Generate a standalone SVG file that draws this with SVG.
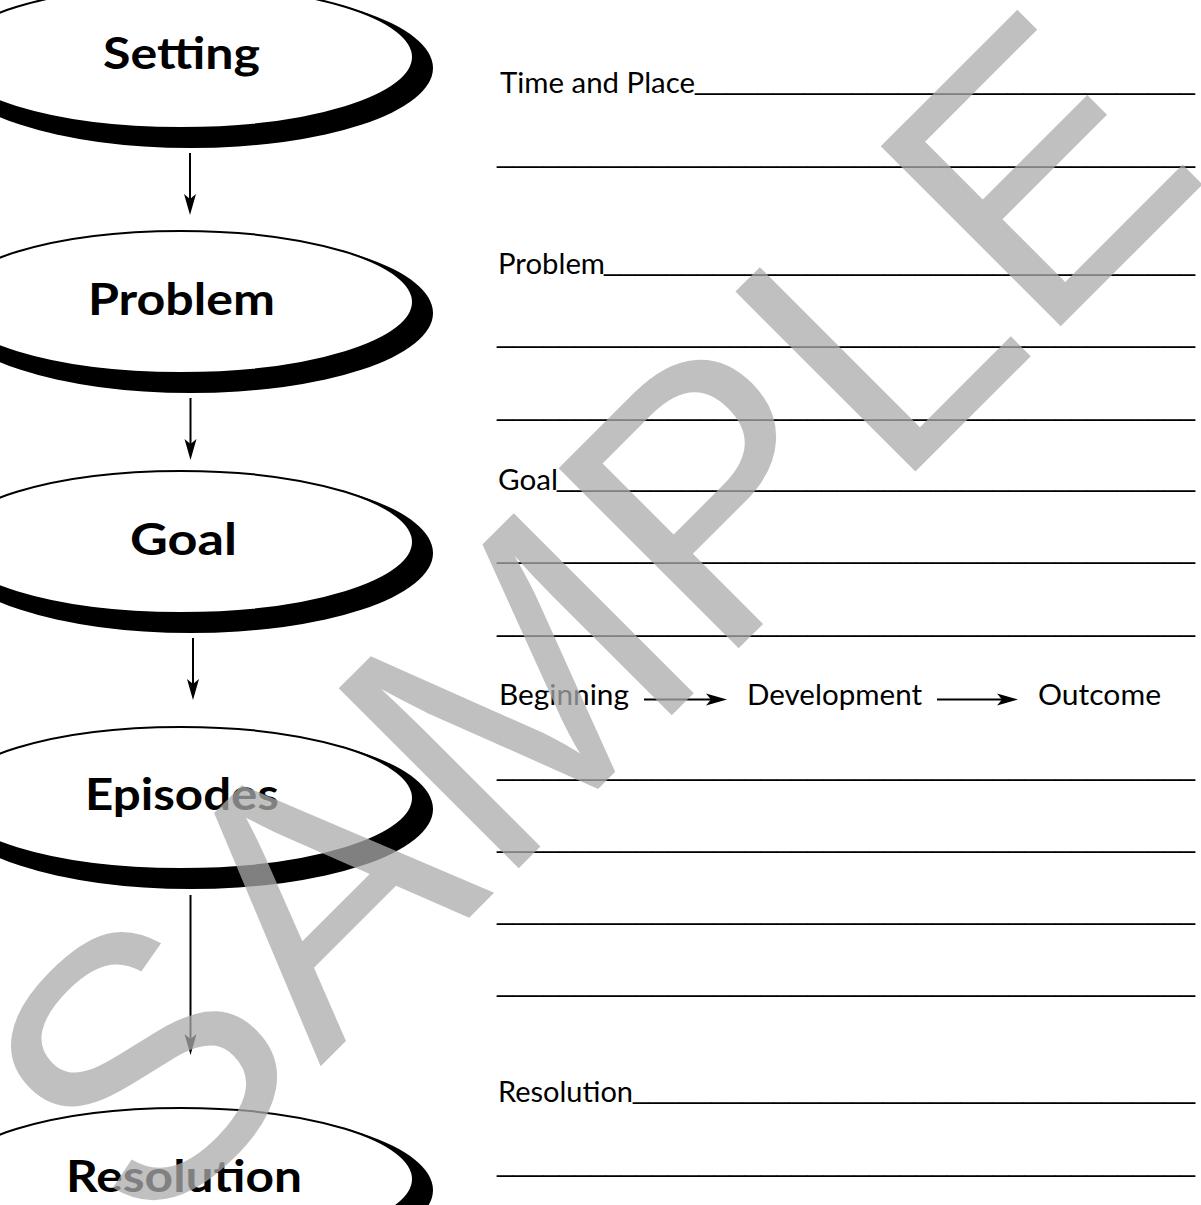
<svg xmlns="http://www.w3.org/2000/svg" width="1201" height="1205" viewBox="0 0 1201 1205">
<defs>
<style>
.lbl{font-family:Lato,"Open Sans","Liberation Sans",sans-serif;font-weight:700;font-size:43px;fill:#000}
.txt{font-family:Lato,"Open Sans","Liberation Sans",sans-serif;font-size:28px;fill:#000}
.ul{font-family:"Liberation Sans",Arial,sans-serif;font-size:28px;fill:#000}
.shadow{fill:#000}
.face{fill:#fff;stroke:#000;stroke-width:2}
.conn{stroke:#000;stroke-width:2;fill:none}
.wm{font-family:"Liberation Sans",Arial,sans-serif;font-size:370px;fill:#ababab;fill-opacity:0.75}
</style>
<marker id="ah" viewBox="-12 -7 23 14" refX="0" refY="0" markerWidth="23" markerHeight="14" markerUnits="userSpaceOnUse" orient="auto">
<path d="M10,0 L-11,-6 L-6,0 L-11,6 Z" fill="#000"/>
</marker>
</defs>
<rect width="1201" height="1205" fill="#fff"/>
<g id="node-setting">
<ellipse class="shadow" cx="191" cy="68" rx="242" ry="80"/>
<ellipse class="face" cx="181" cy="57" rx="232" ry="71"/>
<text class="lbl" x="103" y="68.5" textLength="157" lengthAdjust="spacingAndGlyphs">Setting</text>
</g>
<g id="node-problem">
<ellipse class="shadow" cx="191" cy="313" rx="242" ry="80"/>
<ellipse class="face" cx="181" cy="302" rx="232" ry="71"/>
<text class="lbl" x="88" y="315" textLength="187" lengthAdjust="spacingAndGlyphs">Problem</text>
</g>
<g id="node-goal">
<ellipse class="shadow" cx="191" cy="553" rx="242" ry="80"/>
<ellipse class="face" cx="181" cy="542" rx="232" ry="71"/>
<text class="lbl" x="130" y="555" textLength="107" lengthAdjust="spacingAndGlyphs">Goal</text>
</g>
<g id="node-episodes">
<ellipse class="shadow" cx="191" cy="809" rx="242" ry="80"/>
<ellipse class="face" cx="181" cy="798" rx="232" ry="71"/>
<text class="lbl" x="85" y="810" textLength="194" lengthAdjust="spacingAndGlyphs">Episodes</text>
</g>
<g id="node-resolution">
<ellipse class="shadow" cx="191" cy="1190" rx="242" ry="80"/>
<ellipse class="face" cx="181" cy="1179" rx="232" ry="71"/>
<text class="lbl" x="66" y="1192" textLength="236" lengthAdjust="spacingAndGlyphs">Resolution</text>
</g>
<g id="connectors">
<line class="conn" x1="190" y1="153" x2="190" y2="205" marker-end="url(#ah)"/>
<line class="conn" x1="190.5" y1="398" x2="190.5" y2="450" marker-end="url(#ah)"/>
<line class="conn" x1="193" y1="638" x2="193" y2="690" marker-end="url(#ah)"/>
<line class="conn" x1="190.5" y1="895" x2="190.5" y2="1045" marker-end="url(#ah)"/>
<line class="conn" x1="644" y1="699.5" x2="717" y2="699.5" marker-end="url(#ah)"/>
<line class="conn" x1="937" y1="699.5" x2="1008" y2="699.5" marker-end="url(#ah)"/>
</g>
<g id="worksheet">
<text class="txt" x="500" y="92.5" textLength="195" lengthAdjust="spacingAndGlyphs">Time and Place</text>
<text class="ul" x="695" y="89.1" textLength="500" lengthAdjust="spacingAndGlyphs">________________________________</text>
<text class="ul" x="497" y="162.1" textLength="698" lengthAdjust="spacingAndGlyphs">_____________________________________________</text>
<text class="txt" x="498" y="273.5" textLength="107" lengthAdjust="spacingAndGlyphs">Problem</text>
<text class="ul" x="604" y="270.1" textLength="591" lengthAdjust="spacingAndGlyphs">______________________________________</text>
<text class="ul" x="497" y="342.1" textLength="698" lengthAdjust="spacingAndGlyphs">_____________________________________________</text>
<text class="ul" x="497" y="415.1" textLength="698" lengthAdjust="spacingAndGlyphs">_____________________________________________</text>
<text class="txt" x="498" y="489.5" textLength="60" lengthAdjust="spacingAndGlyphs">Goal</text>
<text class="ul" x="557" y="486.1" textLength="638" lengthAdjust="spacingAndGlyphs">_________________________________________</text>
<text class="ul" x="497" y="558.1" textLength="698" lengthAdjust="spacingAndGlyphs">_____________________________________________</text>
<text class="ul" x="497" y="631.1" textLength="698" lengthAdjust="spacingAndGlyphs">_____________________________________________</text>
<text class="txt" x="499" y="705" textLength="130" lengthAdjust="spacingAndGlyphs">Beginning</text>
<text class="txt" x="747" y="705" textLength="175" lengthAdjust="spacingAndGlyphs">Development</text>
<text class="txt" x="1038" y="705" textLength="123" lengthAdjust="spacingAndGlyphs">Outcome</text>
<text class="ul" x="497" y="775.1" textLength="698" lengthAdjust="spacingAndGlyphs">_____________________________________________</text>
<text class="ul" x="497" y="847.1" textLength="698" lengthAdjust="spacingAndGlyphs">_____________________________________________</text>
<text class="ul" x="497" y="919.1" textLength="698" lengthAdjust="spacingAndGlyphs">_____________________________________________</text>
<text class="ul" x="497" y="991.1" textLength="698" lengthAdjust="spacingAndGlyphs">_____________________________________________</text>
<text class="txt" x="498" y="1101.5" textLength="135" lengthAdjust="spacingAndGlyphs">Resolution</text>
<text class="ul" x="633" y="1098.1" textLength="562" lengthAdjust="spacingAndGlyphs">____________________________________</text>
<text class="ul" x="497" y="1171.1" textLength="698" lengthAdjust="spacingAndGlyphs">_____________________________________________</text>
</g>
<text id="watermark" class="wm" transform="translate(693.5,693.5) rotate(-45)" x="-777 -528 -277.5 33.5 283.5 489" y="0">SAMPLE</text>
</svg>
